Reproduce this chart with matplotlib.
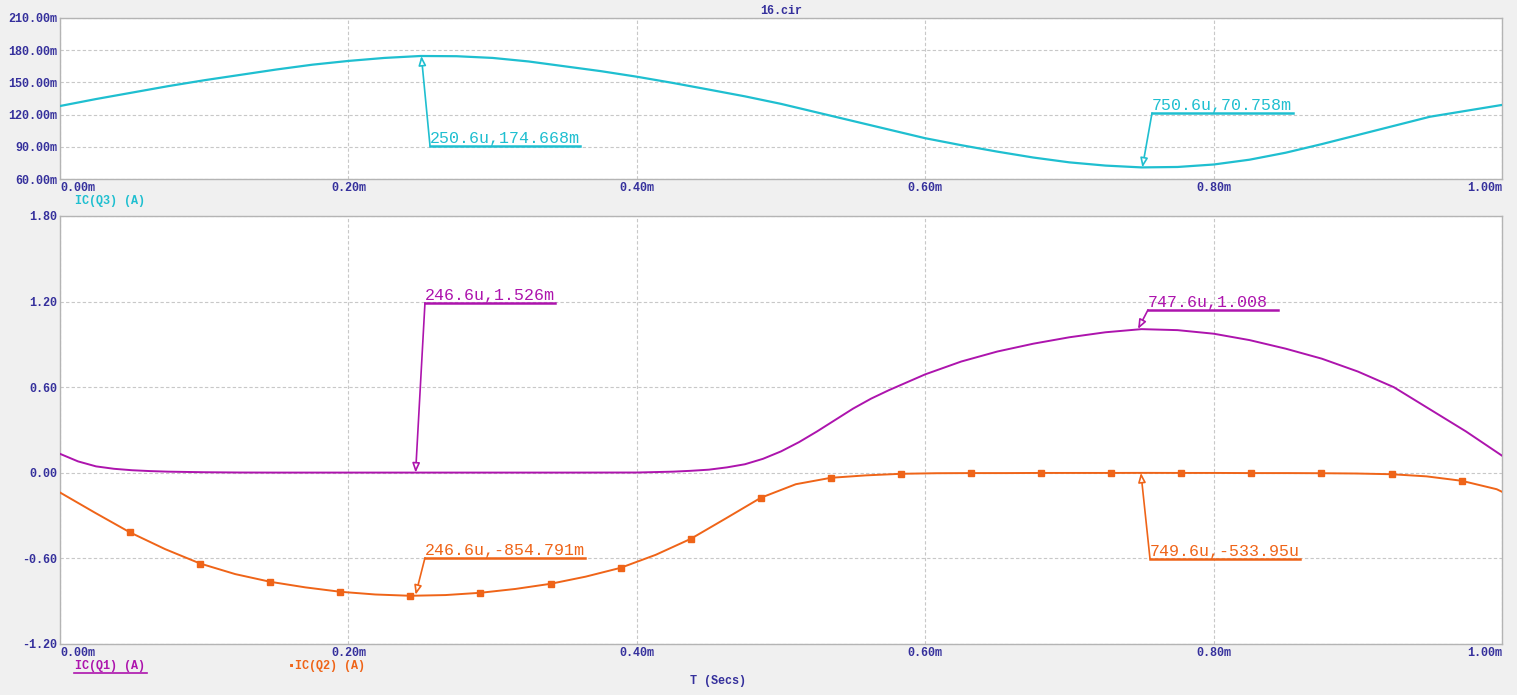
import numpy as np
import matplotlib
matplotlib.use("Agg")
import matplotlib.pyplot as plt

# ---------------- data ----------------
t_ms = [0.000, 0.025, 0.050, 0.075, 0.100, 0.125, 0.150, 0.175, 0.200, 0.225,
        0.250, 0.275, 0.300, 0.325, 0.350, 0.375, 0.400, 0.425, 0.450, 0.475,
        0.500, 0.525, 0.550, 0.575, 0.600, 0.625, 0.650, 0.675, 0.700, 0.725,
        0.750, 0.775, 0.800, 0.825, 0.850, 0.875, 0.900, 0.925, 0.950, 0.975, 1.000]

ic_q3_mA = [128.0, 134.5, 140.5, 146.5, 152.0, 157.0, 162.0, 166.5, 170.0, 172.8,
            174.6, 174.4, 172.8, 169.5, 165.0, 160.5, 155.3, 149.5, 143.3, 137.0,
            130.0, 122.0, 114.0, 106.0, 98.0, 91.5, 85.5, 80.0, 75.5, 72.5,
            70.8, 71.2, 73.5, 78.0, 84.5, 92.5, 101.0, 109.5, 118.0, 123.5, 129.0]

t1_ms = [0.0000, 0.0125, 0.0250, 0.0375, 0.0500, 0.0625, 0.0750, 0.1000, 0.1250, 0.1500,
         0.2000, 0.2500, 0.3000, 0.3500, 0.4000, 0.4250, 0.4375, 0.4500, 0.4625, 0.4750,
         0.4875, 0.5000, 0.5125, 0.5250, 0.5375, 0.5500, 0.5625, 0.5750, 0.6000, 0.6250,
         0.6500, 0.6750, 0.7000, 0.7250, 0.7500, 0.7750, 0.8000, 0.8250, 0.8500, 0.8750,
         0.9000, 0.9250, 0.9500, 0.9750, 1.0000]

ic_q1_A = [0.133, 0.080, 0.045, 0.028, 0.018, 0.012, 0.008, 0.004, 0.002, 0.0015,
           0.0015, 0.0015, 0.0015, 0.0015, 0.002, 0.008, 0.014, 0.022, 0.038, 0.060,
           0.098, 0.150, 0.215, 0.290, 0.370, 0.450, 0.520, 0.580, 0.690, 0.780,
           0.850, 0.905, 0.950, 0.985, 1.007, 1.000, 0.975, 0.930, 0.870, 0.800,
           0.710, 0.600, 0.445, 0.290, 0.120]

t2_ms = [0.0000, 0.0243, 0.0486, 0.0729, 0.0972, 0.1215, 0.1458, 0.1701, 0.1944, 0.2187,
         0.2430, 0.2673, 0.2916, 0.3159, 0.3402, 0.3645, 0.3888, 0.4131, 0.4374, 0.4617,
         0.4860, 0.5103, 0.5346, 0.5589, 0.5832, 0.6075, 0.6318, 0.6561, 0.6804, 0.7047,
         0.7290, 0.7533, 0.7776, 0.8019, 0.8262, 0.8505, 0.8748, 0.8991, 0.9234, 0.9477,
         0.9720, 0.9963, 1.0000]

ic_q2_A = [-0.138, -0.280, -0.418, -0.535, -0.636, -0.710, -0.764, -0.803, -0.834, -0.853,
           -0.862, -0.857, -0.841, -0.814, -0.778, -0.728, -0.666, -0.575, -0.463, -0.320,
           -0.175, -0.080, -0.035, -0.018, -0.007, -0.003, -0.002, -0.002, -0.001, -0.001,
           -0.001, -0.0005, -0.001, -0.001, -0.002, -0.002, -0.003, -0.005, -0.010, -0.025,
           -0.056, -0.115, -0.133]

x_ticks = [0.0, 0.2, 0.4, 0.6, 0.8, 1.0]
x_tick_labels = ["0.00m", "0.20m", "0.40m", "0.60m", "0.80m", "1.00m"]
top_y_ticks = [60, 90, 120, 150, 180, 210]
top_y_labels = ["60.00m", "90.00m", "120.00m", "150.00m", "180.00m", "210.00m"]
bot_y_ticks = [-1.2, -0.6, 0.0, 0.6, 1.2, 1.8]
bot_y_labels = ["-1.20", "-0.60", "0.00", "0.60", "1.20", "1.80"]

# ---------------- style ----------------
BG = "#f0f0f0"
NAVY = "#35309c"
CYAN = "#1fbfd0"
PURPLE = "#ad14ad"
ORANGE = "#ef6418"
GRID = "#c8c8c8"
SPINE = "#b4b4b4"
MONO = ["Liberation Mono", "DejaVu Sans Mono"]

W, H = 1517, 695
fig = plt.figure(figsize=(W / 100, H / 100), dpi=100, facecolor=BG)


def frac(x0, y0, x1, y1):
    return [x0 / W, 1 - y1 / H, (x1 - x0) / W, (y1 - y0) / H]


ax1 = fig.add_axes(frac(60, 18, 1502, 179))
ax2 = fig.add_axes(frac(60, 216, 1502, 644))


def style(ax, yt, yl, ylim):
    ax.set_facecolor("white")
    ax.set_xlim(0, 1.0)
    ax.set_ylim(*ylim)
    ax.set_xticks(x_ticks)
    ax.set_xticklabels(x_tick_labels)
    ax.set_yticks(yt)
    ax.set_yticklabels(yl)
    ax.tick_params(length=0, pad=2, labelsize=8.5, labelcolor=NAVY)
    for lab in ax.get_xticklabels() + ax.get_yticklabels():
        lab.set_family(MONO)
        lab.set_weight("bold")
    xl = ax.get_xticklabels()
    xl[0].set_ha("left")
    xl[-1].set_ha("right")
    ax.grid(True, color=GRID, lw=0.8, ls=(0, (3, 2)))
    for s in ax.spines.values():
        s.set_color(SPINE)
        s.set_linewidth(1.0)


style(ax1, top_y_ticks, top_y_labels, (60, 210))
style(ax2, bot_y_ticks, bot_y_labels, (-1.2, 1.8))

ax1.plot(t_ms, ic_q3_mA, color=CYAN, lw=1.6, zorder=3)
ax2.plot(t1_ms, ic_q1_A, color=PURPLE, lw=1.4, zorder=3)
ax2.plot(t2_ms, ic_q2_A, color=ORANGE, lw=1.4, marker="s", ms=5,
         markevery=slice(2, 41, 2), zorder=3)


def mark(ax, xp, yp, xl, yl, xe, text, color):
    ax.annotate("", xy=(xp, yp), xytext=(xl, yl),
                arrowprops=dict(arrowstyle="-|>,head_length=0.55,head_width=0.22",
                                fc="white", ec=color, lw=1.2,
                                shrinkA=0, shrinkB=0), zorder=4)
    ax.plot([xl, xe], [yl, yl], color=color, lw=1.8, zorder=4)
    ax.text(xl, yl, text, color=color, family=MONO, fontsize=12,
            ha="left", va="bottom", zorder=5)


mark(ax1, 0.2506, 174.668, 0.2566, 90.8, 0.3606, "250.6u,174.668m", CYAN)
mark(ax1, 0.7506, 70.758, 0.7573, 121.5, 0.855, "750.6u,70.758m", CYAN)
mark(ax2, 0.2466, 0.001526, 0.2531, 1.191, 0.3433, "246.6u,1.526m", PURPLE)
mark(ax2, 0.7476, 1.008, 0.7545, 1.142, 0.8447, "747.6u,1.008", PURPLE)
mark(ax2, 0.2466, -0.854791, 0.2531, -0.596, 0.3641, "246.6u,-854.791m", ORANGE)
mark(ax2, 0.7496, -0.000534, 0.7559, -0.603, 0.860, "749.6u,-533.95u", ORANGE)

# titles / legends
fig.text(781 / W, 1 - 11 / H, "16.cir", color=NAVY, family=MONO, fontsize=8.5,
         weight="bold", ha="center", va="center")
fig.text(75 / W, 1 - 201 / H, "IC(Q3) (A)", color=CYAN, family=MONO, fontsize=8.5,
         weight="bold", ha="left", va="center")
fig.text(75 / W, 1 - 666 / H, "IC(Q1) (A)", color=PURPLE, family=MONO, fontsize=8.5,
         weight="bold", ha="left", va="center")
fig.add_artist(plt.Line2D([74 / W, 147 / W], [1 - 673 / H, 1 - 673 / H],
                          color=PURPLE, lw=1.2))
fig.text(288 / W, 1 - 666 / H, "▪IC(Q2) (A)", color=ORANGE, family=MONO, fontsize=8.5,
         weight="bold", ha="left", va="center")
fig.text(718 / W, 1 - 681 / H, "T (Secs)", color=NAVY, family=MONO, fontsize=8.5,
         weight="bold", ha="center", va="center")

fig.savefig("out.png", dpi=100, facecolor=BG)
